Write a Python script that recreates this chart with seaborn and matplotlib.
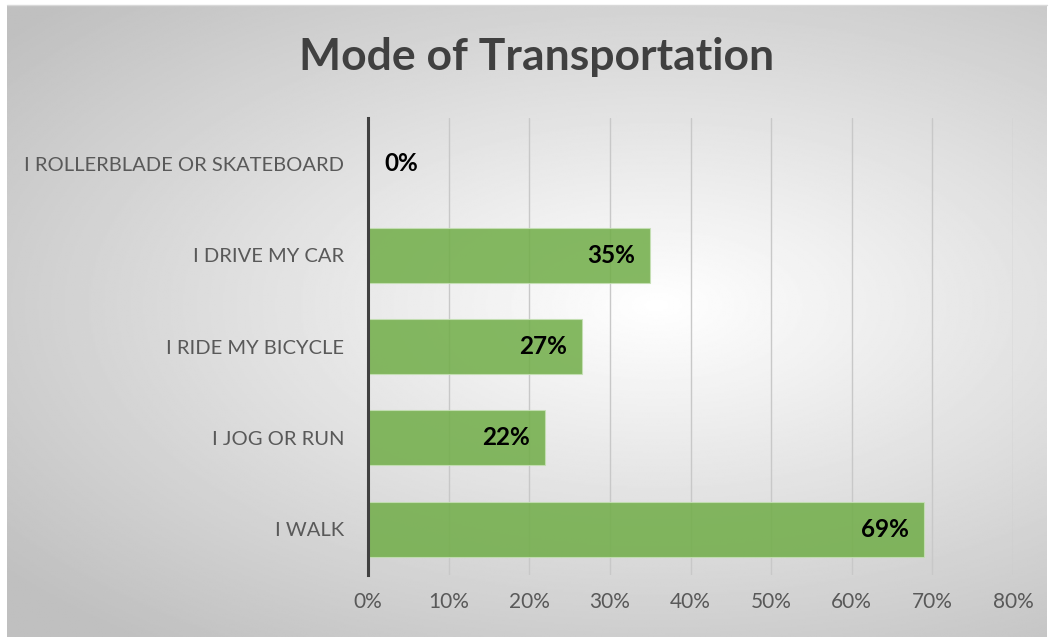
import numpy as np
import pandas as pd
import matplotlib
matplotlib.use("Agg")
import matplotlib.pyplot as plt
import seaborn as sns

# values (percent)
modes = ["I ROLLERBLADE OR SKATEBOARD", "I DRIVE MY CAR", "I RIDE MY BICYCLE",
         "I JOG OR RUN", "I WALK"]
shares = [0, 35, 26.6, 22, 69]
x_ticks = [0, 10, 20, 30, 40, 50, 60, 70, 80]

df = pd.DataFrame({"mode": modes, "share": shares})

sns.set_theme(style="white")
plt.rcParams["font.family"] = ["Lato", "DejaVu Sans"]

fig = plt.figure(figsize=(10.52, 6.37), dpi=100)

# radial gradient background of the chart area
bg = fig.add_axes([7 / 1052, 0, 1040 / 1052, 632 / 637], zorder=-10)
gx, gy = np.meshgrid(np.linspace(-1, 1, 600), np.linspace(-1, 1, 400))
cx, cy = 0.25, -0.05
r = np.sqrt(((gx - cx) / 1.25) ** 2 + ((gy - cy) / 1.05) ** 2)
shade = 1 - 0.25 * np.clip(r, 0, 1.3) / 1.3
bg.imshow(shade, cmap="gray", vmin=0, vmax=1, aspect="auto", extent=[0, 1, 0, 1])
bg.set_axis_off()
fig.add_artist(plt.Line2D([7 / 1052, 1047 / 1052], [632 / 637, 632 / 637],
                          color="#d9d9d9", lw=1))

ax = fig.add_axes([368 / 1052, 62 / 637, 645 / 1052, 457 / 637])
ax.patch.set_alpha(0)

ax.set_axisbelow(True)
ax.xaxis.grid(True, color="#c8c8c8", lw=1)
ax.yaxis.grid(False)

sns.barplot(data=df, x="share", y="mode", orient="h", color="#70ad47",
            width=0.6, alpha=0.85, edgecolor="#c5e0b4", linewidth=0.8,
            saturation=1, ax=ax)

ax.set_xlim(0, 80)
ax.set_ylim(4.5, -0.5)
ax.set_xticks(x_ticks)
ax.set_xticklabels([f"{t}%" for t in x_ticks])
ax.set_xlabel("")
ax.set_ylabel("")
ax.tick_params(axis="y", length=0, pad=17, labelsize=14.5, labelcolor="#595959")
ax.tick_params(axis="x", length=0, pad=12, labelsize=15, labelcolor="#595959")

for side in ["top", "right", "bottom"]:
    ax.spines[side].set_visible(False)
ax.spines["left"].set_color("#404040")
ax.spines["left"].set_linewidth(2.2)

for i, v in enumerate(shares):
    label = f"{round(v)}%"
    if v == 0:
        ax.annotate(label, (v, i), xytext=(12, 0), textcoords="offset points",
                    ha="left", va="center", fontsize=17.5, fontweight="bold", color="black")
    else:
        ax.annotate(label, (v, i), xytext=(-11, 0), textcoords="offset points",
                    ha="right", va="center", fontsize=17.5, fontweight="bold", color="black")

fig.text(0.51, 0.91, "Mode of Transportation", ha="center", va="center",
         fontsize=32, fontweight="bold", color="#404040")

fig.savefig("out.png", dpi=100)
